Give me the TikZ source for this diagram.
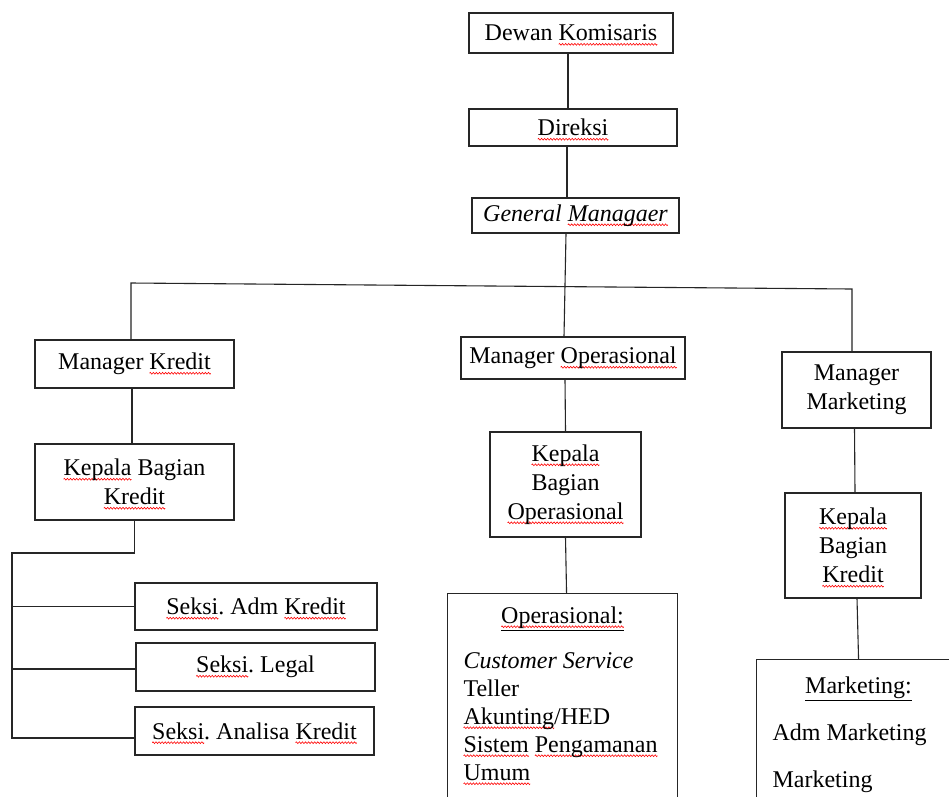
\documentclass[tikz,border=0pt]{standalone}
\usepackage{fontspec}
\setmainfont{Liberation Serif}
\usepackage{xcolor}
\newsavebox\wavebox
\newcommand\sq[1]{\setbox0\hbox{#1}\rlap{\raisebox{-4.5pt}[0pt][0pt]{\hbox to \wd0{\xleaders\copy\wavebox\hfill}}}\box0\relax}
\frenchspacing
\begin{document}
\sbox\wavebox{\pgfpicture
 \pgfpathrectangle{\pgfpoint{0pt}{-1pt}}{\pgfpoint{3pt}{2pt}}\pgfusepath{use as bounding box}
 \pgfsetlinewidth{0.6pt}\pgfsetstrokecolor{red}
 \pgfpathmoveto{\pgfpoint{0pt}{0pt}}
 \pgfpathsine{\pgfpoint{0.75pt}{0.9pt}}
 \pgfpathcosine{\pgfpoint{0.75pt}{-0.9pt}}
 \pgfpathsine{\pgfpoint{0.75pt}{-0.9pt}}
 \pgfpathcosine{\pgfpoint{0.75pt}{0.9pt}}
 \pgfusepath{stroke}
\endpgfpicture}%
\begin{tikzpicture}[x=1pt,y=-1pt,
  frame/.style={draw=black!85, line width=1.1pt, font=\fontsize{24}{29}\selectfont\frenchspacing},
  box/.style={frame, inner xsep=3pt, inner ysep=2pt, align=center},
  link/.style={line width=1.1pt, draw=black!85}]
\fill[white] (0,0) rectangle (949,796);
\useasboundingbox (0,0) rectangle (949,796);
\clip (0,0) rectangle (949,796);

\node[box, minimum width=204, minimum height=40] (dk) at (571,33) {Dewan \sq{Komisaris}};
\node[box, minimum width=208, minimum height=37] (dir) at (573,127.5) {\sq{Direksi}};
\node[box, minimum width=207, minimum height=35] (gm) at (575.5,215.5) {\textit{General \sq{Managaer}}};
\node[box, minimum width=199, minimum height=48] (mk) at (134.5,364) {Manager \sq{Kredit}};
\node[box, minimum width=199, minimum height=76] (kbk) at (134.5,482) {\sq{Kepala} Bagian\\\sq{Kredit}};
\node[box, minimum width=224, minimum height=42] (mo) at (573,358) {Manager \sq{Operasional}};
\node[box, minimum width=151, minimum height=105] (kbo) at (565.5,484.5) {\sq{Kepala}\\Bagian\\\sq{Operasional}};
\node[box, minimum width=149, minimum height=76] (mm) at (856.5,390) {Manager\\Marketing};
\node[box, minimum width=136, minimum height=105] (kbm) at (853,545.5) {\sq{Kepala}\\Bagian\\\sq{Kredit}};
\node[box, minimum width=242, minimum height=47] (s1) at (256,606.5) {\sq{Seksi}. Adm \sq{Kredit}};
\node[box, minimum width=239, minimum height=48] (s2) at (255.5,667) {\sq{Seksi}. Legal};
\node[box, minimum width=239, minimum height=48] (s3) at (254.5,731) {\sq{Seksi}. Analisa \sq{Kredit}};

\node[frame, anchor=north west, inner xsep=16pt, inner ysep=13pt] (ops) at (447,593)
  {\begin{minipage}[t][230pt][t]{198pt}\fontsize{24}{28}\selectfont
   \centerline{\underline{\sq{Operasional:}}}\vspace{17pt}%
   \noindent\textit{Customer Service}\par\noindent Teller\par\noindent\sq{Akunting}/HED\par
   \noindent\sq{Sistem} \sq{Pengamanan}\par\noindent\sq{Umum}\end{minipage}};
\node[frame, anchor=north west, inner xsep=16pt, inner ysep=17pt] (mkt) at (756,659)
  {\begin{minipage}[t][200pt][t]{172pt}\fontsize{24}{29}\selectfont
   \centerline{\underline{Marketing:}}\vspace{18pt}%
   \noindent Adm Marketing\par\vspace{18pt}\noindent Marketing\end{minipage}};

\coordinate (hl) at (131,283);
\coordinate (hr) at (852,289);
\coordinate (bt) at (12,553);
\coordinate (bb) at (12,738);

\draw[link] ([xshift=-3pt]dk.south) -- ([xshift=-5pt]dir.north);
\draw[link] ([xshift=-6pt]dir.south) -- ([xshift=-8.5pt]gm.north);
\draw[link] ([xshift=-9.5pt]gm.south) -- ([xshift=-9pt]mo.north);
\draw[link] ([xshift=-3.5pt]mk.north) -- (hl) -- (hr) -- ([xshift=-4.5pt]mm.north);
\draw[link] ([xshift=-2.5pt]mk.south) -- ([xshift=-2.5pt]kbk.north);
\draw[link] (kbk.south) |- (bt) -- (bb) -- ([yshift=-7pt]s3.west);
\draw[link] (s1.west) -- (s1.west -| bt);
\draw[link] ([yshift=-2pt]s2.west) -- ([yshift=-2pt]s2.west -| bt);
\draw[link] ([xshift=-8pt]mo.south) -- (kbo.north);
\draw[link] (kbo.south) -- ([xshift=4pt]ops.north);
\draw[link] ([xshift=-2pt]mm.south) -- ([xshift=2pt]kbm.north);
\draw[link] ([xshift=4pt]kbm.south) -- (mkt.north);
\end{tikzpicture}
\end{document}
